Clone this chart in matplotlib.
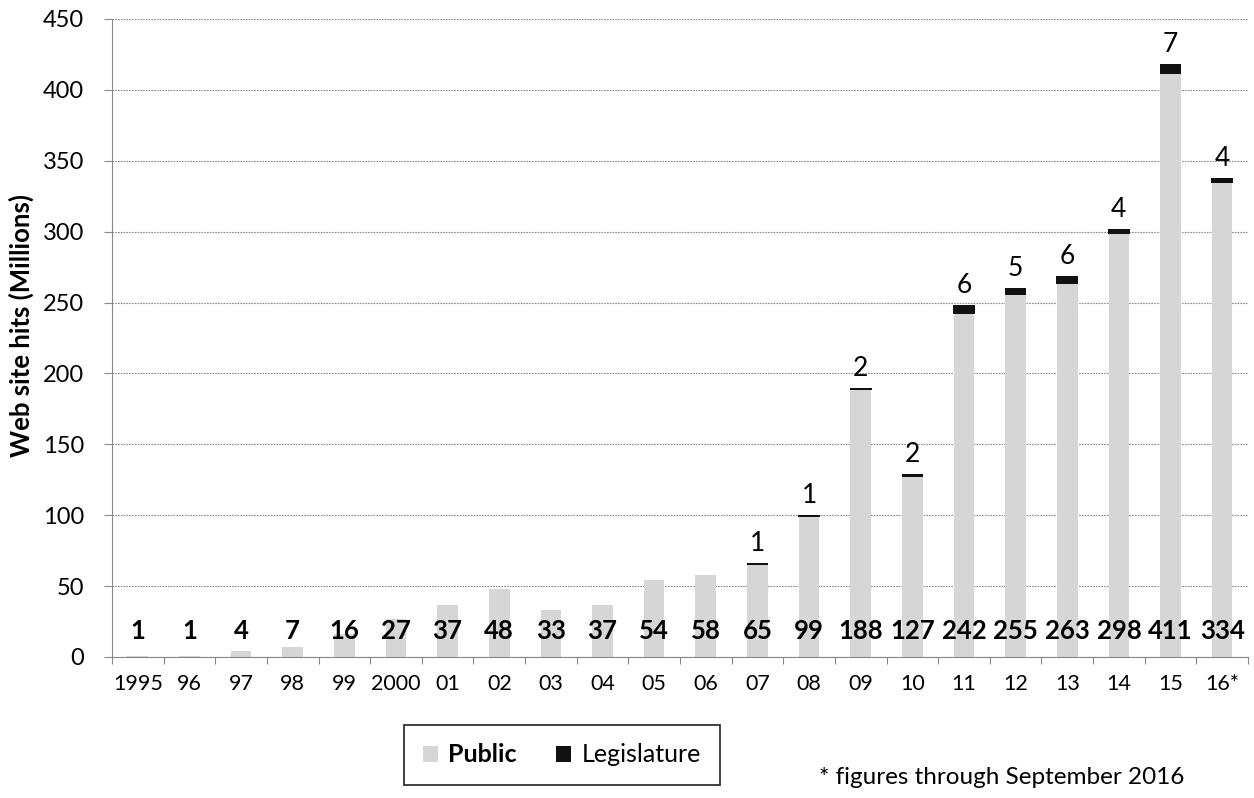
import matplotlib
matplotlib.use("Agg")
import matplotlib.pyplot as plt
from matplotlib.patches import Patch

plt.rcParams['font.family'] = ['Lato', 'DejaVu Sans']

years = ["1995", "96", "97", "98", "99", "2000", "01", "02", "03", "04", "05",
         "06", "07", "08", "09", "10", "11", "12", "13", "14", "15", "16*"]
public = [1, 1, 4, 7, 16, 27, 37, 48, 33, 37, 54, 58, 65, 99, 188, 127,
          242, 255, 263, 298, 411, 334]
legislature = [0, 0, 0, 0, 0, 0, 0, 0, 0, 0, 0, 0, 1, 1, 2, 2, 6, 5, 6, 4, 7, 4]
y_ticks = [0, 50, 100, 150, 200, 250, 300, 350, 400, 450]

public_color = "#d6d6d6"
leg_color = "#111111"

fig = plt.figure(figsize=(12.54, 7.98), dpi=100)
ax = fig.add_axes([0.0893, 0.1767, 0.9059, 0.7995])

x = list(range(len(years)))
width = 0.40
ax.bar(x, public, width=width, color=public_color, zorder=2)
ax.bar(x, legislature, width=width * 1.05, bottom=public, color=leg_color, zorder=3)

# value labels: public totals near the base, legislature above each bar
for xi, p, l in zip(x, public, legislature):
    ax.text(xi, 18, f"{p}", ha="center", va="center", fontsize=18.5,
            fontweight="bold", color="black", zorder=4)
    if l > 0:
        ax.text(xi, p + l + 5, f"{l}", ha="center", va="bottom", fontsize=19,
                color="black", zorder=4)

ax.set_xlim(-0.5, len(years) - 0.5)
ax.set_ylim(0, 450)
ax.set_yticks(y_ticks)
ax.set_yticklabels([str(v) for v in y_ticks], fontsize=17)
ax.set_xticks(x)
ax.set_xticklabels(years, fontsize=15.5)
ax.tick_params(axis="x", length=0, pad=12)
ax.tick_params(axis="y", length=6, color="#888888", width=0.8, pad=14)

# category boundary ticks on the x axis
ax.set_xticks([i - 0.5 for i in range(len(years) + 1)], minor=True)
ax.tick_params(axis="x", which="minor", length=5, color="#888888", width=0.8)

ax.grid(axis="y", color="#8a8a8a", linestyle=(0, (1.5, 1)), linewidth=0.8, zorder=0)
ax.set_axisbelow(True)
for side in ("top", "right"):
    ax.spines[side].set_visible(False)
ax.spines["left"].set_color("#888888")
ax.spines["left"].set_linestyle((0, (1.5, 1)))
ax.spines["left"].set_linewidth(0.8)
ax.spines["bottom"].set_color("#888888")
ax.spines["bottom"].set_linewidth(0.8)

ax.set_ylabel("Web site hits (Millions)", fontsize=18.5, fontweight="bold",
              va="center")
ax.yaxis.set_label_coords(-0.080, 0.519)

handles = [Patch(facecolor=public_color, edgecolor="none", label="Public"),
           Patch(facecolor=leg_color, edgecolor="none", label="Legislature")]
leg = fig.legend(handles=handles, loc="center", bbox_to_anchor=(0.448, 0.054),
                 ncol=2, frameon=True, fontsize=18, handlelength=0.6,
                 handleheight=0.6, handletextpad=0.4, columnspacing=1.6,
                 borderpad=0.75, borderaxespad=0, fancybox=False)
leg.get_frame().set_edgecolor("black")
leg.get_frame().set_linewidth(1.3)
leg.get_texts()[0].set_fontweight("bold")

fig.text(0.799, 0.026, "* figures through September 2016", ha="center",
         va="center", fontsize=17.5)

fig.savefig("out.png", dpi=100, facecolor="white")
